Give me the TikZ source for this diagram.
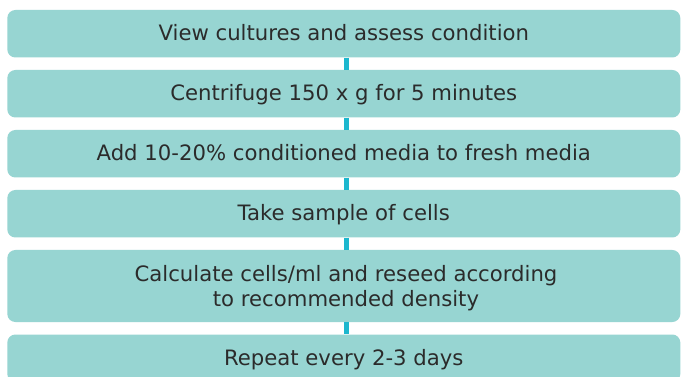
\documentclass[tikz,border=0pt]{standalone}
\usepackage{fontspec}
\setmainfont{DejaVu Sans}
\definecolor{boxfill}{HTML}{97D5D2}
\definecolor{connc}{HTML}{1DB7CE}
\definecolor{txt}{HTML}{2B2B2B}
\begin{document}
\begin{tikzpicture}[x=1pt,y=-1pt,
  label text/.style={inner sep=0pt, text=txt, align=center,
    font=\fontsize{21.2}{25}\selectfont},
  basebox/.style={label text, rectangle, rounded corners=8pt, fill=boxfill, draw=none,
    minimum width=673pt},
  stepbox/.style={basebox, minimum height=47.5pt, text height=16pt, text depth=2pt},
  conn/.style={draw=connc, line width=5pt}]
\useasboundingbox (0,0) rectangle (681,377);
\clip (0,0) rectangle (681,377);
\fill[white] (0,0) rectangle (681,377);
\node[stepbox] (b1) at (343.8,33.75) {View cultures and assess condition};
\node[stepbox] (b2) at (343.8,93.75) {Centrifuge 150 x g for 5 minutes};
\node[stepbox] (b3) at (343.8,153.75) {Add 10-20\% conditioned media to fresh media};
\node[stepbox] (b4) at (343.8,213.75) {Take sample of cells};
\node[basebox, minimum height=72pt] (b5) at (343.8,286) {};
\node[label text, anchor=base] (b5t) at (346,306) {Calculate cells/ml and reseed according\\to recommended density};
\node[stepbox] (b6) at (343.8,358.25) {Repeat every 2-3 days};
\foreach \a/\b in {b1/b2,b2/b3,b3/b4,b4/b5,b5/b6}{
  \draw[conn] ([xshift=3pt]\a.south) -- ([xshift=3pt]\b.north);
}
\end{tikzpicture}
\end{document}
